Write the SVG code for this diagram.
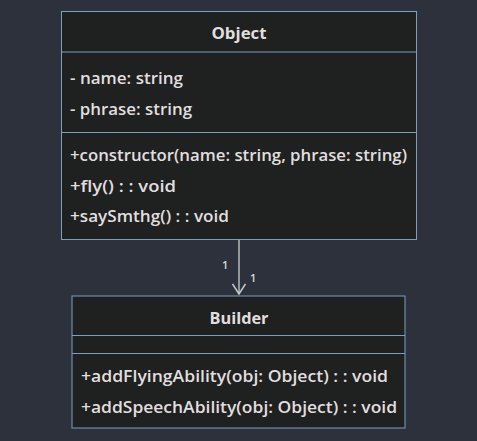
<svg xmlns="http://www.w3.org/2000/svg" width="477" height="441" viewBox="0 0 477 441">
<style>
.box{fill:#1f2020;stroke:#7d9ec0;stroke-width:1}
.div{stroke:#7d9ec0;stroke-width:1}
text{font-family:"Open Sans","Noto Sans","DejaVu Sans",sans-serif;fill:#e0dfdf;font-size:16px;font-weight:600}
.t{font-weight:bold;text-anchor:middle}
.lbl{font-size:11px;fill:#d8d8d8;font-weight:600}
.edge{stroke:#cccccc;stroke-width:1.3;fill:none}
</style>
<defs>
<marker id="arr" viewBox="0 0 12 14" refX="11" refY="7" markerWidth="12" markerHeight="14" markerUnits="userSpaceOnUse" orient="auto">
<path d="M1,0.5 L11,7 L1,13.5" fill="none" stroke="#cccccc" stroke-width="1.5"/>
</marker>
</defs>
<rect width="477" height="441" fill="#2c313c"/>
<g id="edges">
<path class="edge" d="M239,239 L239,294" marker-end="url(#arr)"/>
<text class="lbl" x="222" y="269">1</text>
<text class="lbl" x="250" y="282">1</text>
</g>
<g id="Object">
<rect class="box" x="61.5" y="11.5" width="355" height="228"/>
<line class="div" x1="61.5" y1="52" x2="416.5" y2="52"/>
<line class="div" x1="61.5" y1="132.5" x2="416.5" y2="132.5"/>
<text class="t" x="239" y="38.5" textLength="55" lengthAdjust="spacingAndGlyphs">Object</text>
<text x="70" y="84" textLength="113" lengthAdjust="spacingAndGlyphs">- name: string</text>
<text x="70" y="115" textLength="122" lengthAdjust="spacingAndGlyphs">- phrase: string</text>
<text x="70" y="161" textLength="337" lengthAdjust="spacingAndGlyphs">+constructor(name: string, phrase: string)</text>
<text x="70" y="192" textLength="106" lengthAdjust="spacingAndGlyphs">+fly() : : void</text>
<text x="70" y="222" textLength="159" lengthAdjust="spacingAndGlyphs">+saySmthg() : : void</text>
</g>
<g id="Builder">
<rect class="box" x="72" y="296" width="333" height="132"/>
<line class="div" x1="72" y1="335.5" x2="405" y2="335.5"/>
<line class="div" x1="72" y1="353.5" x2="405" y2="353.5"/>
<text class="t" x="239" y="323.5" textLength="59" lengthAdjust="spacingAndGlyphs">Builder</text>
<text x="81" y="382" textLength="307" lengthAdjust="spacingAndGlyphs">+addFlyingAbility(obj: Object) : : void</text>
<text x="81" y="413" textLength="316" lengthAdjust="spacingAndGlyphs">+addSpeechAbility(obj: Object) : : void</text>
</g>
</svg>
